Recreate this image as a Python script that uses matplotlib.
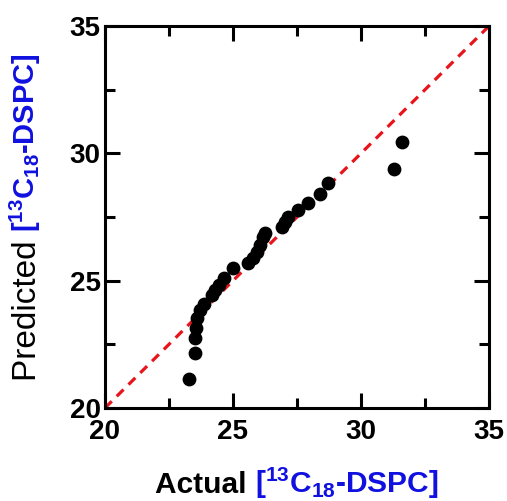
import numpy as np
import matplotlib
matplotlib.use("Agg")
import matplotlib.pyplot as plt
from matplotlib.ticker import MultipleLocator

plt.rcParams['font.family'] = ['Liberation Sans', 'DejaVu Sans']
plt.rcParams['mathtext.fontset'] = 'custom'
plt.rcParams['mathtext.rm'] = 'Liberation Sans:bold'
plt.rcParams['mathtext.bf'] = 'Liberation Sans:bold'
plt.rcParams['mathtext.default'] = 'regular'

# values
actual = [23.29, 23.50, 23.52, 23.54, 23.58, 23.71, 23.87, 24.17, 24.30, 24.47,
          24.65, 25.01, 25.60, 25.77, 25.93, 26.05, 26.18, 26.25, 26.90, 27.03,
          27.16, 27.55, 27.92, 28.40, 28.72, 31.29, 31.60]
predicted = [21.13, 22.17, 22.74, 23.13, 23.52, 23.85, 24.08, 24.44, 24.63, 24.83,
             25.09, 25.48, 25.68, 25.88, 26.14, 26.40, 26.72, 26.86, 27.12, 27.31,
             27.51, 27.77, 28.07, 28.40, 28.82, 29.38, 30.46]
lims = [20, 35]
ticks = [20, 25, 30, 35]

fig = plt.figure(figsize=(5.07, 5.01), dpi=100)
ax = fig.add_axes([0.207, 0.1856, 0.7575, 0.7624])

ax.plot(lims, lims, color='#e8141c', lw=2.3, dashes=(3, 2.2), zorder=1)
ax.scatter(actual, predicted, s=80, color='black', zorder=2)

ax.set_xlim(lims)
ax.set_ylim(lims)
ax.set_xticks(ticks)
ax.set_yticks(ticks)
ax.xaxis.set_minor_locator(MultipleLocator(2.5))
ax.yaxis.set_minor_locator(MultipleLocator(2.5))
ax.tick_params(which='both', direction='in', top=True, right=True, width=2.2)
ax.tick_params(which='major', length=11, labelsize=20)
ax.tick_params(axis='y', which='major', pad=3)
ax.tick_params(axis='x', which='major', pad=8)
ax.tick_params(which='minor', length=7)
for lab in ax.get_xticklabels() + ax.get_yticklabels():
    lab.set_fontweight('bold')
for sp in ax.spines.values():
    sp.set_linewidth(2.2)

# two-colour axis labels
blue = '#1010e0'
fig.canvas.draw()
r = fig.canvas.get_renderer()
axb = ax.get_window_extent(r)

t1 = fig.text(0.29, 0.016, 'Actual ', fontsize=21.5, fontweight='bold', color='black',
              ha='left', va='baseline')
w1 = t1.get_window_extent(r)
t2 = fig.text(w1.x1 / fig.bbox.width, 0.016, r'[$^{13}$C$_{18}$-DSPC]', fontsize=21.5,
              fontweight='bold', color=blue, ha='left', va='baseline')
w2 = t2.get_window_extent(r)
# centre the pair under the axes
shift = (axb.x0 + axb.x1) / 2 - (w1.x0 + w2.x1) / 2
t1.set_x((w1.x0 + shift) / fig.bbox.width)
t2.set_x((w2.x0 + shift) / fig.bbox.width)

y1 = fig.text(0.085, 0.2, 'Predicted ', fontsize=24, color='black', rotation=90,
              ha='left', va='bottom', rotation_mode='anchor')
v1 = y1.get_window_extent(r)
y2 = fig.text(0.085, v1.y1 / fig.bbox.height, r'[$^{13}$C$_{18}$-DSPC]', fontsize=21,
              fontweight='bold', color=blue, rotation=90, ha='left', va='bottom',
              rotation_mode='anchor')
v2 = y2.get_window_extent(r)
shift = (axb.y0 + axb.y1) / 2 - (v1.y0 + v2.y1) / 2
y1.set_y((v1.y0 + shift) / fig.bbox.height)
y2.set_y((v2.y0 + shift) / fig.bbox.height)

plt.savefig('out.png', dpi=100)
